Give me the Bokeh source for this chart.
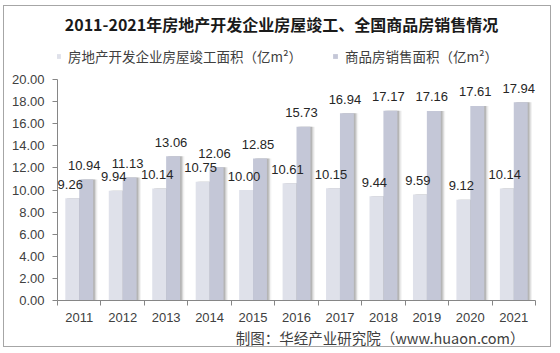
from bokeh.plotting import figure
from bokeh.models import (ColumnDataSource, Range1d, FixedTicker, NumeralTickFormatter,
                          LabelSet, Label, Legend, LegendItem, Title)
from bokeh.core.properties import value
from bokeh.transform import dodge
from bokeh.embed import file_html
from bokeh.resources import INLINE

years = ["2011", "2012", "2013", "2014", "2015", "2016", "2017", "2018", "2019", "2020", "2021"]
completed = [9.26, 9.94, 10.14, 10.75, 10.00, 10.61, 10.15, 9.44, 9.59, 9.12, 10.14]
sales = [10.94, 11.13, 13.06, 12.06, 12.85, 15.73, 16.94, 17.17, 17.16, 17.61, 17.94]
y_ticks = [0, 2, 4, 6, 8, 10, 12, 14, 16, 18, 20]
y_max = 20

title_text = "2011-2021年房地产开发企业房屋竣工、全国商品房销售情况"
name_completed = "房地产开发企业房屋竣工面积（亿m²）"
name_sales = "商品房销售面积（亿m²）"
source_text = "制图：华经产业研究院（www.huaon.com）"

C_LIGHT = "#dfe1ea"
C_DARK = "#c4c7d7"
TXT = "#404040"
NUM_FONT = "Liberation Sans"
CJK_FONT = "Noto Sans CJK SC"

xc = [i + 0.5 for i in range(len(years))]
src = ColumnDataSource(dict(
    x=xc, year=years, completed=completed, sales=sales,
    completed_lbl=["%.2f" % v for v in completed],
    sales_lbl=["%.2f" % v for v in sales],
))

# canvas placed at page (4, 6) inside a 1px border starting at (3, 5)
OX, OY = 4, 6
W, H = 548, 342
AX_L, AX_R, AX_T, AX_B = 57, 535, 79, 300       # page px of plot area (y=20 at AX_T)
FL, FR, FB = AX_L - OX, AX_R - OX, AX_B - OY
FT = 0                                          # frame reaches canvas top
y_top = y_max * (AX_B - OY - FT) / (AX_B - AX_T)

p = figure(width=W, height=H, output_backend="svg", toolbar_location=None,
           x_range=Range1d(0, len(years)), y_range=Range1d(0, y_top),
           min_border_left=FL, min_border_right=W - FR,
           min_border_top=FT, min_border_bottom=H - FB,
           background_fill_color="white", border_fill_color="white",
           title=None)
p.styles = {"border": "1px solid #a6a6a6", "margin-left": "3px", "margin-top": "5px"}
p.outline_line_color = None
p.grid.visible = False

bw = 0.32
for off, a in [(0.04, 0.38), (0.07, 0.22), (0.1, 0.1)]:
    p.vbar(x=dodge("x", -bw / 2 + off, range=p.x_range), top="completed", width=bw,
           source=src, fill_color="#7f7f7f", fill_alpha=a, line_color=None)
    p.vbar(x=dodge("x", bw / 2 + off, range=p.x_range), top="sales", width=bw,
           source=src, fill_color="#7f7f7f", fill_alpha=a, line_color=None)

r1 = p.vbar(x=dodge("x", -bw / 2, range=p.x_range), top="completed", width=bw,
            source=src, fill_color=C_LIGHT, line_color=None)
r2 = p.vbar(x=dodge("x", bw / 2, range=p.x_range), top="sales", width=bw,
            source=src, fill_color=C_DARK, line_color=None)

for col, lbl, d in [("completed", "completed_lbl", -bw / 2), ("sales", "sales_lbl", bw / 2)]:
    p.add_layout(LabelSet(x=dodge("x", d, range=p.x_range), y=col, text=lbl, source=src,
                          x_offset=-2, y_offset=14, text_align="center", text_baseline="middle",
                          text_font=value(NUM_FONT), text_font_size="13px", text_color="#262626"))

ya = p.yaxis[0]
ya.bounds = (0, y_max)
ya.ticker = FixedTicker(ticks=y_ticks, minor_ticks=[])
ya.formatter = NumeralTickFormatter(format="0.00")
ya.axis_line_color = "#868686"
ya.major_tick_line_color = "#868686"
ya.major_tick_out = 5
ya.major_tick_in = 0
ya.minor_tick_line_color = None
ya.major_label_standoff = 8
ya.major_label_text_font = NUM_FONT
ya.major_label_text_font_size = "13px"
ya.major_label_text_color = TXT

xa = p.xaxis[0]
xa.ticker = FixedTicker(ticks=xc, minor_ticks=list(range(len(years) + 1)))
xa.major_label_overrides = {v: y for v, y in zip(xc, years)}
xa.axis_line_color = "#868686"
xa.major_tick_line_color = None
xa.major_tick_out = 0
xa.major_tick_in = 0
xa.minor_tick_line_color = "#868686"
xa.minor_tick_out = 5
xa.minor_tick_in = 0
xa.major_label_standoff = 7
xa.major_label_text_font = NUM_FONT
xa.major_label_text_font_size = "13px"
xa.major_label_text_color = TXT

legend = Legend(items=[LegendItem(label=name_completed, renderers=[r1]),
                       LegendItem(label=name_sales, renderers=[r2])],
                orientation="horizontal", location=(-2, AX_B - 66),
                glyph_width=6, glyph_height=6, label_height=14, label_standoff=7,
                spacing=30, padding=0, margin=0, border_line_color=None,
                background_fill_alpha=0,
                label_text_font=CJK_FONT, label_text_font_size="13.5px",
                label_text_color=TXT)
p.add_layout(legend)

p.add_layout(Label(x=281 - AX_L, y=AX_B - 23, x_units="screen", y_units="screen",
                   text=title_text, text_align="center", text_baseline="middle",
                   text_font=CJK_FONT, text_font_size="16px", text_font_style="bold",
                   text_color="#1a1a1a"))

p.add_layout(Title(text=source_text, align="right", offset=11, standoff=0, text_font=CJK_FONT,
                   text_font_size="14.5px", text_font_style="normal", text_color=TXT), "below")

open("out.html", "w").write(file_html(p, INLINE))
